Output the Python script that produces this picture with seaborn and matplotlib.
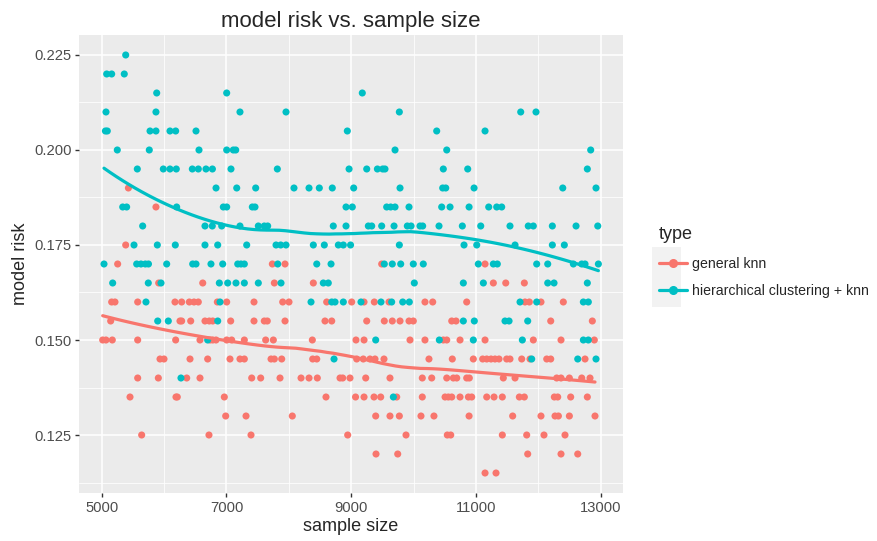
import numpy as np
import pandas as pd
import seaborn as sns
import matplotlib.pyplot as plt
from matplotlib.lines import Line2D
from matplotlib.patches import Rectangle

# model risk levels and sample sizes, one row per risk level
knn_levels = [0.190, 0.185, 0.175, 0.170, 0.165, 0.160, 0.155, 0.150,
              0.145, 0.140, 0.135, 0.130, 0.125, 0.120, 0.115]
knn_sizes = [
    [5428],
    [5870],
    [5385],
    [5256, 7736, 7939, 9489, 11146],
    [5914, 6620, 7768, 8393, 11279, 11478, 11776],
    [5160, 5213, 5577, 6175, 6282, 6405, 6480, 6549, 6854, 7004, 7442, 7902, 8003,
     8607, 9008, 9206, 9371, 9606, 10183, 10307, 10852, 11787, 11856, 12043, 12401],
    [5144, 6255, 6282, 6427, 6656, 6725, 6780, 7068, 7442, 7607, 7655, 7939, 8580,
     8688, 9249, 9531, 9659, 9783, 9927, 9996, 10612, 10681, 12199, 12866],
    [5016, 5069, 5170, 5577, 6186, 6576, 6736, 6780, 6833, 7004, 7084, 7287, 7629,
     7752, 8377, 9077, 9206, 9943, 10183, 10477, 10532, 10745, 11146, 11920, 12364, 12898],
    [5935, 5999, 6416, 6699, 7057, 7217, 7287, 7715, 7768, 7886, 8383, 8448, 9088,
     9194, 9301, 9382, 9526, 10247, 10621, 10958, 11108, 11173, 11242, 11306, 11370,
     11493, 11546, 11734, 11867, 12135, 12199, 12749],
    [5577, 5908, 6363, 6576, 7405, 7549, 7859, 8196, 8324, 8457, 8821, 8864, 8981,
     9233, 9622, 10140, 10291, 10532, 10638, 10692, 10852, 10894, 11439, 11627, 12295,
     12364, 12498, 12696, 12829],
    [5454, 6191, 6212, 6966, 8596, 9070, 9206, 9366, 9473, 9730, 10140, 10505, 10558,
     10612, 10745, 10879, 10932, 11173, 11290, 11423, 11696, 11776, 12257, 12311,
     12519, 12786],
    [6988, 7314, 8056, 9393, 9622, 9772, 10119, 10327, 10890, 11589, 12043, 12268,
     12322, 12498, 12909],
    [5641, 6720, 7394, 8944, 9879, 10541, 10596, 11423, 11814, 12091, 12428],
    [9398, 9746, 11830, 12364, 12632],
    [11146, 11322],
]

hc_levels = [0.225, 0.220, 0.215, 0.210, 0.205, 0.200, 0.195, 0.190, 0.185,
             0.180, 0.175, 0.170, 0.165, 0.160, 0.155, 0.150, 0.145, 0.140, 0.135]
hc_sizes = [
    [5385],
    [5080, 5160, 5362],
    [5882, 7004, 9178],
    [5069, 5870, 7217, 7955, 9772, 11718, 11963],
    [5060, 5090, 5775, 5870, 6095, 6186, 6512, 8938, 10371, 11146],
    [5250, 5763, 6560, 7004, 7110, 7149, 9703, 10532, 12840],
    [5571, 5988, 6095, 6196, 6453, 6549, 6672, 6775, 7073, 7816, 8966, 9249, 9420,
     9505, 9542, 10477, 10868, 12786],
    [6833, 7165, 7469, 8083, 8324, 8489, 8697, 9040, 9783, 10467, 10516, 10970,
     12392, 12925],
    [5337, 5400, 6202, 6950, 7004, 7415, 7458, 8917, 9018, 9569, 9633, 9703, 9927,
     10451, 10585, 10890, 11205, 11333, 11413],
    [5657, 6656, 6773, 6924, 7217, 7511, 7607, 7661, 8713, 8917, 9275, 9329, 9489,
     9687, 9900, 9960, 10103, 10146, 10408, 10782, 11077, 11546, 11839, 11920, 12225,
     12605, 12953],
    [5518, 5892, 6180, 6656, 6860, 7325, 7795, 7870, 7955, 8393, 8569, 8794, 8874,
     8990, 9772, 10809, 11013, 11627, 12225, 12417],
    [5037, 5561, 5630, 5700, 5750, 6042, 6459, 6512, 6752, 6940, 7181, 7233, 7287,
     7822, 8448, 8677, 9531, 9659, 9794, 9996, 10156, 11038, 11279, 11343, 11974,
     12151, 12562, 12696, 12749, 12963],
    [5176, 5747, 5951, 6886, 7020, 7153, 7287, 7511, 7875, 8553, 8633, 10012, 10798,
     11119, 12151, 12252, 12786],
    [5710, 6897, 8356, 8688, 8741, 8874, 9157, 9478, 9649, 9826, 9932, 11707, 11974,
     12722, 12802],
    [5898, 6068, 6860, 10798, 10974, 11466, 11531, 11830],
    [6699, 9393, 10413, 10958, 11744, 12722, 12802],
    [8725, 11894, 12632, 12925],
    [6271],
    [9676],
]

type_names = ['general knn', 'hierarchical clustering + knn']
palette = {'general knn': '#F8766D', 'hierarchical clustering + knn': '#00BFC4'}


def toFrame(levels, sizes, name):
    rows = []
    for lvl, xs in zip(levels, sizes):
        for s in xs:
            rows.append({'sample size': s, 'model risk': lvl, 'type': name})
    return pd.DataFrame(rows)


def loess(x, y, grid, span=0.75):
    # local quadratic fit with tricube weights (ggplot geom_smooth default)
    k = int(np.ceil(span * len(x)))
    out = []
    for g in grid:
        d = np.abs(x - g)
        h = np.sort(d)[k - 1]
        w = np.clip(1 - (d / h) ** 3, 0, None) ** 3
        coef = np.polyfit((x - g) / 1000.0, y, 2, w=np.sqrt(w))
        out.append(coef[-1])
    return np.array(out)


df = pd.concat([toFrame(knn_levels, knn_sizes, type_names[0]),
                toFrame(hc_levels, hc_sizes, type_names[1])], ignore_index=True)

smoothRows = []
for name in type_names:
    sub = df[df['type'] == name]
    xs = sub['sample size'].to_numpy(float)
    ys = sub['model risk'].to_numpy(float)
    grid = np.linspace(xs.min(), xs.max(), 80)
    for gx, gy in zip(grid, loess(xs, ys, grid)):
        smoothRows.append({'sample size': gx, 'model risk': gy, 'type': name})
smoothDf = pd.DataFrame(smoothRows)

sns.set_style('darkgrid', {'axes.facecolor': '#EBEBEB', 'grid.color': 'white'})
plt.rcParams['font.family'] = ['Liberation Sans', 'DejaVu Sans']

fig = plt.figure(figsize=(8.78, 5.41), dpi=100)
ax = fig.add_axes([79.3 / 878, 1 - 493.3 / 541, 543.4 / 878, 458.3 / 541])

sns.scatterplot(data=df, x='sample size', y='model risk', hue='type', palette=palette,
                s=26, linewidth=0, alpha=1, legend=False, ax=ax, zorder=3)
sns.lineplot(data=smoothDf, x='sample size', y='model risk', hue='type', palette=palette,
             linewidth=2.3, legend=False, ax=ax, zorder=4)

ax.set_xlim(4641, 13353)
ax.set_ylim(0.10966, 0.23026)
ax.set_xticks([5000, 7000, 9000, 11000, 13000])
ax.set_xticks([6000, 8000, 10000, 12000], minor=True)
ax.set_yticks([0.125, 0.150, 0.175, 0.200, 0.225])
ax.set_yticklabels(['0.125', '0.150', '0.175', '0.200', '0.225'])
ax.set_yticks([0.1125, 0.1375, 0.1625, 0.1875, 0.2125], minor=True)
ax.grid(which='major', color='white', linewidth=1.1)
ax.grid(which='minor', color='white', linewidth=0.55)
ax.tick_params(which='major', bottom=True, left=True, length=3, width=1,
               color='#333333', labelcolor='#4D4D4D', labelsize=10.6, pad=2.5)
ax.tick_params(which='minor', length=0)
for sp in ax.spines.values():
    sp.set_visible(False)

ax.set_xlabel('sample size', fontsize=13, labelpad=2)
ax.set_ylabel('model risk', fontsize=13, labelpad=4)
ax.set_title('model risk vs. sample size', fontsize=16, pad=6)

# legend
fig.patches.append(Rectangle((652 / 878, 1 - 307 / 541), 29 / 878, 60 / 541,
                             transform=fig.transFigure, facecolor='#F2F2F2',
                             edgecolor='none'))
handles = [Line2D([], [], color=palette[n], marker='o', markersize=5.5, linewidth=2.3)
           for n in type_names]
leg = fig.legend(handles, type_names, loc='upper left',
                 bbox_to_anchor=(652 / 878, 1 - 219 / 541), frameon=False, borderpad=0,
                 title='type', title_fontsize=13, fontsize=10.2, handlelength=2.0,
                 labelspacing=0.95, handletextpad=0.3, alignment='left')

fig.savefig('out.png', dpi=100)
